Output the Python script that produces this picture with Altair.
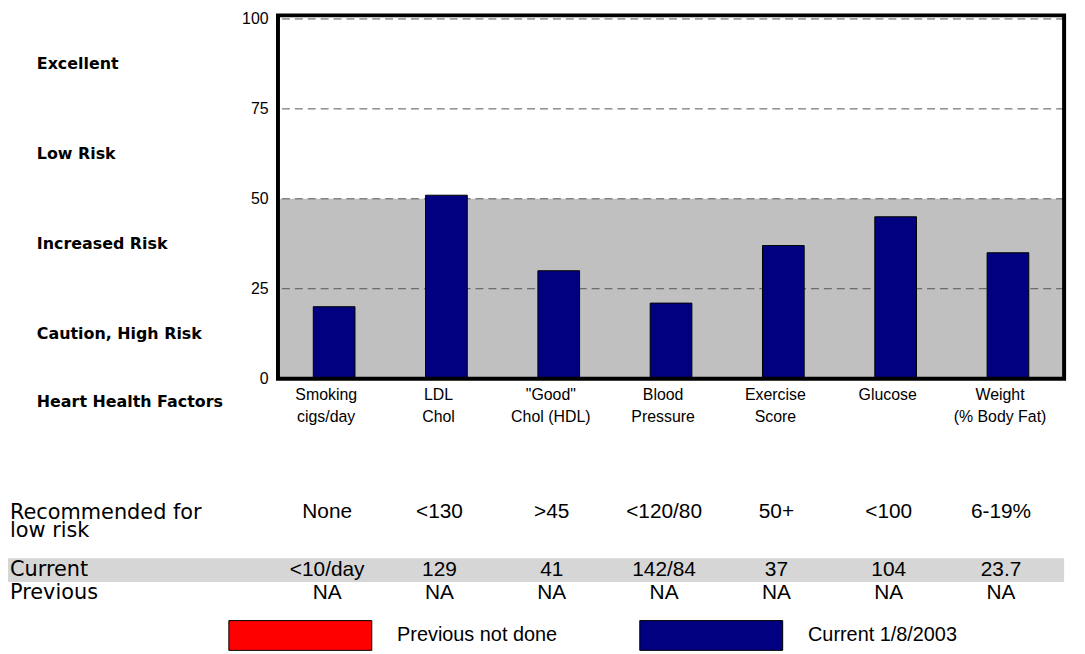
import altair as alt
import pandas as pd

# ---- data ----
factor_line1 = ["Smoking", "LDL", '"Good"', "Blood", "Exercise", "Glucose", "Weight"]
factor_line2 = ["cigs/day", "Chol", "Chol (HDL)", "Pressure", "Score", "", "(% Body Fat)"]
scores = [20, 51, 30, 21, 37, 45, 35]
recommended = ["None", "<130", ">45", "<120/80", "50+", "<100", "6-19%"]
current = ["<10/day", "129", "41", "142/84", "37", "104", "23.7"]
previous = ["NA", "NA", "NA", "NA", "NA", "NA", "NA"]
zone_labels = ["Excellent", "Low Risk", "Increased Risk", "Caution, High Risk"]
zone_mid = [87.5, 62.5, 37.5, 12.5]
grid_values = [25, 50, 75, 100]
y_ticks = [0, 25, 50, 75, 100]
risk_band = [0, 50]
legend_labels = ["Previous not done", "Current 1/8/2003"]
legend_colors = ["#ff0000", "#000080"]
row_titles = ["Current", "Previous"]
rec_title_lines = ["Recommended for", "low risk"]

FONT = "Liberation Sans"
WIDE = "DejaVu Sans"
W, H = 792, 366
Y_MAX = 101

keys = [a + "|" + b for a, b in zip(factor_line1, factor_line2)]
df = pd.DataFrame({
    "factor": keys, "score": scores, "rec": recommended,
    "cur": current, "prev": previous, "series": legend_labels[1],
})
band_df = pd.DataFrame({"lo": [risk_band[0]], "hi": [risk_band[1]]})
frame_df = pd.DataFrame({"lo": [0], "hi": [Y_MAX]})
grid_df = pd.DataFrame({"g": grid_values})
zone_df = pd.DataFrame({"label": zone_labels, "mid": zone_mid})

yscale = alt.Scale(domain=[0, Y_MAX], nice=False, zero=True)
yaxis = alt.Axis(title=None, values=y_ticks, grid=False, ticks=False, domain=False,
                 labelFontSize=16, labelFont=FONT, labelColor="black", labelPadding=10)
xaxis = alt.Axis(title=None, labelExpr="split(datum.value, '|')", labelAngle=0,
                 labelFontSize=16, labelFont=FONT, labelColor="black", labelPadding=8,
                 labelOffset=-8, ticks=False, domain=False, labelLineHeight=22,
                 labelBaseline="top")
xenc = alt.X("factor:N", sort=keys, scale=alt.Scale(paddingInner=0, paddingOuter=0), axis=xaxis)

band = alt.Chart(band_df).mark_rect(color="#c0c0c0").encode(
    y=alt.Y("lo:Q", scale=yscale, axis=yaxis), y2="hi:Q")

grid = alt.Chart(grid_df).mark_rule(strokeDash=[8, 5], color="#555555", strokeWidth=1).encode(
    y=alt.Y("g:Q", scale=yscale, axis=yaxis))

bars = alt.Chart(df).mark_bar(size=42, stroke="black", strokeWidth=1).encode(
    x=xenc,
    y=alt.Y("score:Q", scale=yscale, axis=yaxis),
    color=alt.Color("series:N", scale=alt.Scale(domain=legend_labels, range=legend_colors),
                    legend=alt.Legend(title=None, orient="none", legendX=-50, legendY=594,
                                      direction="horizontal",
                                      symbolType="M-1,-0.5H3.8V0.5H-1Z", symbolSize=3600,
                                      symbolStrokeColor="black", symbolStrokeWidth=1,
                                      symbolOpacity=1, labelFontSize=20, labelFont=FONT,
                                      labelColor="black", labelOffset=109,
                                      columnPadding=80, labelLimit=400)),
)

frame = alt.Chart(frame_df).mark_rect(fillOpacity=0, stroke="black", strokeWidth=4).encode(
    y=alt.Y("lo:Q", scale=yscale, axis=yaxis), y2="hi:Q")

zones = alt.Chart(zone_df).mark_text(align="left", fontSize=16, fontWeight="bold",
                                     font=WIDE, color="black").encode(
    x=alt.value(-243), y=alt.Y("mid:Q", scale=yscale, axis=yaxis), text="label:N")

hhf = alt.Chart(pd.DataFrame({"t": ["Heart Health Factors"]})).mark_text(
    align="left", fontSize=16, fontWeight="bold", font=WIDE, color="black").encode(
    x=alt.value(-243), y=alt.value(H + 24), text="t:N")

cur_band = alt.Chart(pd.DataFrame({"row": ["Current"]})).mark_rect(color="#d6d6d6").encode(
    x=alt.value(-272), x2=alt.value(W), y=alt.value(547), y2=alt.value(571))

rec_title = alt.Chart(pd.DataFrame({"t": [rec_title_lines]})).mark_text(
    align="left", baseline="top", fontSize=21, font=WIDE, color="black", lineHeight=19).encode(
    x=alt.value(-270), y=alt.value(490), text="t")

cur_title = alt.Chart(pd.DataFrame({"t": [row_titles[0]]})).mark_text(
    align="left", fontSize=21, font=WIDE, color="black").encode(
    x=alt.value(-270), y=alt.value(559), text="t:N")
prev_title = alt.Chart(pd.DataFrame({"t": [row_titles[1]]})).mark_text(
    align="left", fontSize=21, font=WIDE, color="black").encode(
    x=alt.value(-270), y=alt.value(582), text="t:N")

tbl = alt.Chart(df).mark_text(fontSize=21, font=FONT, color="black", dx=-7)
rec_vals = tbl.encode(x=xenc, y=alt.value(500), text="rec:N")
cur_vals = tbl.encode(x=xenc, y=alt.value(559), text="cur:N")
prev_vals = tbl.encode(x=xenc, y=alt.value(582), text="prev:N")

chart = alt.layer(
    band, grid, bars, frame, zones, hhf, cur_band, rec_title, cur_title, prev_title,
    rec_vals, cur_vals, prev_vals,
).properties(
    width=W, height=H, autosize="none",
    padding={"left": 272, "top": 5, "right": 13, "bottom": 275},
    background="white",
).configure_view(stroke=None)

chart.save("out.html", embed_options={"renderer": "svg", "actions": False})
